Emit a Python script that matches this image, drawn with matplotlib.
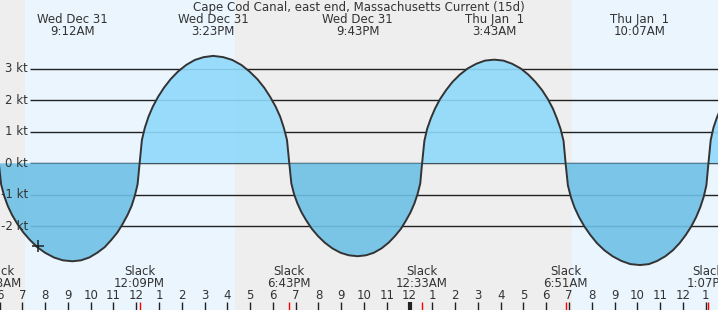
import matplotlib
matplotlib.use("Agg")
import matplotlib.pyplot as plt
import numpy as np

# current readings, hours since midnight Dec 31 (24 = midnight Jan 1)
ebb1_t = [5.97, 6.07, 6.20, 6.36, 6.55, 6.78, 7.04, 7.33, 7.65, 8.00, 8.39, 8.78, 9.20,
          9.58, 9.94, 10.29, 10.62, 10.91, 11.18, 11.41, 11.62, 11.80, 11.94, 12.06]
ebb1_kt = [0.00, -0.67, -1.03, -1.35, -1.64, -1.92, -2.19, -2.43, -2.66, -2.84, -2.99, -3.08, -3.11,
           -3.08, -2.99, -2.84, -2.66, -2.43, -2.19, -1.92, -1.64, -1.35, -1.03, -0.67]
flood1_t = [12.15, 12.25, 12.38, 12.54, 12.73, 12.96, 13.22, 13.51, 13.83, 14.19, 14.57, 14.96, 15.38,
            15.82, 16.22, 16.62, 16.98, 17.32, 17.62, 17.88, 18.12, 18.32, 18.48, 18.62]
flood1_kt = [0.00, 0.74, 1.13, 1.48, 1.80, 2.11, 2.40, 2.67, 2.91, 3.12, 3.28, 3.37, 3.41,
             3.37, 3.28, 3.12, 2.91, 2.67, 2.40, 2.11, 1.80, 1.48, 1.13, 0.74]
ebb2_t = [18.72, 18.81, 18.93, 19.08, 19.26, 19.47, 19.71, 19.98, 20.28, 20.61, 20.97, 21.33, 21.72,
          22.09, 22.43, 22.77, 23.08, 23.36, 23.62, 23.84, 24.04, 24.21, 24.35, 24.47]
ebb2_kt = [0.00, -0.64, -0.98, -1.28, -1.56, -1.82, -2.08, -2.31, -2.52, -2.70, -2.84, -2.92, -2.95,
           -2.92, -2.84, -2.70, -2.52, -2.31, -2.08, -1.82, -1.56, -1.28, -0.98, -0.64]
flood2_t = [24.55, 24.65, 24.77, 24.93, 25.12, 25.34, 25.60, 25.88, 26.20, 26.55, 26.93, 27.31, 27.72,
            28.12, 28.50, 28.88, 29.22, 29.53, 29.82, 30.07, 30.29, 30.47, 30.63, 30.76]
flood2_kt = [0.00, 0.71, 1.09, 1.42, 1.74, 2.04, 2.32, 2.58, 2.81, 3.01, 3.16, 3.26, 3.29,
             3.26, 3.16, 3.01, 2.81, 2.58, 2.32, 2.04, 1.74, 1.42, 1.09, 0.71]
ebb3_t = [30.85, 30.95, 31.08, 31.24, 31.44, 31.67, 31.93, 32.22, 32.55, 32.91, 33.30, 33.69, 34.12,
          34.51, 34.87, 35.23, 35.56, 35.86, 36.13, 36.37, 36.58, 36.76, 36.91, 37.03]
ebb3_kt = [0.00, -0.70, -1.07, -1.40, -1.71, -2.00, -2.27, -2.53, -2.76, -2.95, -3.10, -3.20, -3.23,
           -3.20, -3.10, -2.95, -2.76, -2.53, -2.27, -2.00, -1.71, -1.40, -1.07, -0.70]
flood3_t = [37.12, 37.22, 37.34, 37.50, 37.70]
flood3_kt = [0.00, 0.74, 1.13, 1.47, 1.80]

max_t = [9.20, 15.383, 21.717, 27.717, 34.117]
max_lbl = [("Wed Dec 31", "9:12AM"), ("Wed Dec 31", "3:23PM"), ("Wed Dec 31", "9:43PM"),
           ("Thu Jan  1", "3:43AM"), ("Thu Jan  1", "10:07AM")]
slack_t = [5.97, 12.15, 18.717, 24.55, 30.85, 37.117]
slack_lbl = ["5:58AM", "12:09PM", "6:43PM", "12:33AM", "6:51AM", "1:07PM"]
daylight = [(7.12, 16.34), (31.13, 41.0)]
y_ticks = [3, 2, 1, 0, -1, -2]
now_t, now_kt = 7.69, -2.62

W, H = 718, 310
X0, X1 = 6.021, 37.54
Y0, Y1 = -4.657, 5.184
TXT = "#333333"
FS = 8.5


def yfrac(py):
    return 1 - py / H


fig = plt.figure(figsize=(W / 100, H / 100), dpi=100)
ax = fig.add_axes([0, 0, 1, 1])
ax.set_xlim(X0, X1)
ax.set_ylim(Y0, Y1)
ax.axis("off")
fig.patch.set_facecolor("#eeeeee")

# night / day background
ax.axvspan(X0, X1, color="#eeeeee", zorder=0)
for a, b in daylight:
    ax.axvspan(a, b, color="#eaf5fe", zorder=0.5, lw=0)

# grid lines
ax.hlines(y_ticks, 30 / W, 1, transform=ax.get_yaxis_transform(),
          color="#222222", lw=1.0, zorder=1)

t = np.array(ebb1_t + flood1_t + ebb2_t + flood2_t + ebb3_t + flood3_t)
v = np.array(ebb1_kt + flood1_kt + ebb2_kt + flood2_kt + ebb3_kt + flood3_kt)
ax.fill_between(t, v, 0, where=v >= 0, color="#8fd9fb", alpha=0.9, lw=0, zorder=2, interpolate=True)
ax.fill_between(t, v, 0, where=v <= 0, color="#6ec0e6", alpha=0.9, lw=0, zorder=2, interpolate=True)
ax.plot(t, v, color="#333333", lw=1.4, zorder=3)
ax.plot([now_t], [now_kt], marker="+", ms=9, mew=1.1, color="#222222", zorder=4)

# y labels
for y in y_ticks:
    ax.text(28 / W, y, f"{y} kt", transform=ax.get_yaxis_transform(),
            ha="right", va="center", fontsize=FS, color=TXT, zorder=5)

# title and max labels
fig.text(0.5, yfrac(7.5), "Cape Cod Canal, east end, Massachusetts Current (15d)",
         ha="center", va="center", fontsize=FS, color=TXT)
tr = ax.get_xaxis_transform()
for x, (l1, l2) in zip(max_t, max_lbl):
    ax.text(x, yfrac(19.5), l1, transform=tr, ha="center", va="center", fontsize=FS, color=TXT)
    ax.text(x, yfrac(31.8), l2, transform=tr, ha="center", va="center", fontsize=FS, color=TXT)

# slack labels
for x, lbl in zip(slack_t, slack_lbl):
    ax.text(x, yfrac(271.5), "Slack", transform=tr, ha="center", va="center", fontsize=FS, color=TXT)
    ax.text(x, yfrac(283.7), lbl, transform=tr, ha="center", va="center", fontsize=FS, color=TXT)

# hour ticks
for h in range(6, 38):
    lab = h % 12
    if lab == 0:
        lab = 12
    lw = 3 if h == 24 else 1
    ax.vlines(h, 0, 8 / H, transform=tr, color="#222222", lw=lw, zorder=5)
    ax.text(h, yfrac(295.5), str(lab), transform=tr, ha="center", va="center", fontsize=FS, color=TXT)
for x in slack_t:
    ax.vlines(x, 0, 8 / H, transform=tr, color="red", lw=1, zorder=6)

fig.savefig("out.png", dpi=100)
